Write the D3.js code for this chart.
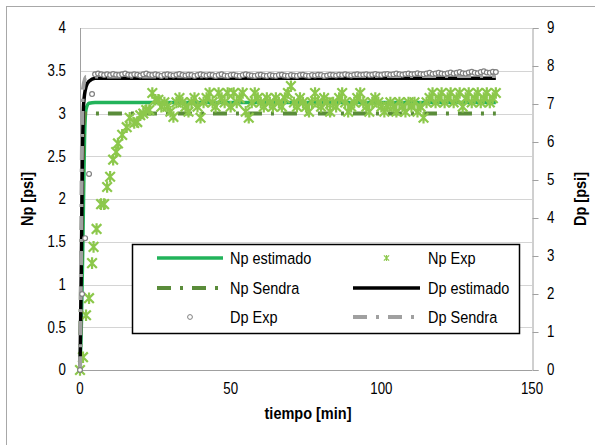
<!DOCTYPE html>
<html>
<head>
<meta charset="utf-8">
<script src="https://cdn.jsdelivr.net/npm/d3@7"></script>
<style>
  html, body { margin: 0; padding: 0; background: #fff; }
  svg { display: block; font-family: "Liberation Sans", Arial, sans-serif; }
</style>
</head>
<body>
<svg id="chart" width="595" height="445"></svg>
<script>
// ---- data ----
const npTicks = [0, 0.5, 1, 1.5, 2, 2.5, 3, 3.5, 4];
const dpTicks = [0, 1, 2, 3, 4, 5, 6, 7, 8, 9];
const timeTicks = [0, 50, 100, 150];

// model curves [t (min), value (psi)]
const npEstimado = [[0, 0], [0.5, 0.6], [1.0, 1.6], [1.5, 2.7], [2.0, 3.05], [3, 3.12], [5, 3.13], [138, 3.13]];
const npSendra   = [[0, 0], [0.5, 1.4], [1.0, 2.5], [1.5, 3.0], [138, 3.0]];
const dpEstimado = [[0, 0], [0.4, 2.5], [0.8, 5.5], [1.2, 7.0], [2, 7.45], [3, 7.6], [5, 7.68], [138, 7.68]];
const dpSendra   = [[0, 0], [0.3, 2.5], [0.6, 5.5], [1.0, 7.4], [2, 7.72], [138, 7.74]];

// Np measurements: start-up ramp, then one reading per minute
const npExpRamp = [[0, 0], [1, 0.15], [2, 0.64], [3, 0.84], [4, 1.25], [4.5, 1.44], [5.5, 1.65],
  [7, 1.94], [8, 1.94], [9, 2.14], [10, 2.26], [11, 2.46], [12, 2.55], [12.6, 2.65], [14, 2.75],
  [15.5, 2.84], [16.5, 2.95], [18, 2.89], [19, 2.9], [20, 2.98], [21, 3.0], [22, 3.04], [23, 3.04]];
const npExpStart = 24;
const npExpValues = [
  3.24, 3.16, 3.16, 3.08, 3.13, 3.08, 3.02, 2.96, 3.13, 3.18,
  3.13, 3.08, 3.02, 3.13, 3.18, 3.08, 2.95, 3.13, 3.18, 3.24,
  3.13, 3.08, 3.24, 3.18, 3.13, 3.24, 3.08, 3.24, 3.13, 3.18,
  3.24, 3.02, 2.95, 3.13, 3.24, 3.18, 3.13, 3.08, 3.18, 3.13,
  3.08, 3.18, 3.13, 3.08, 3.18, 3.24, 3.32, 3.13, 3.08, 3.18,
  3.13, 3.08, 3.02, 3.13, 3.24, 3.13, 3.08, 3.18, 3.13, 3.02,
  3.13, 3.08, 3.18, 3.24, 3.13, 3.02, 3.08, 3.13, 3.18, 3.24,
  3.13, 3.08, 3.02, 3.13, 3.18, 3.13, 3.08, 3.02, 3.08, 3.13,
  3.08, 3.02, 3.13, 3.08, 3.02, 3.13, 3.08, 3.13, 3.02, 3.08,
  2.95, 3.13, 3.18, 3.24, 3.13, 3.18, 3.24, 3.13, 3.18, 3.24,
  3.13, 3.18, 3.24, 3.08, 3.18, 3.24, 3.13, 3.18, 3.24, 3.13,
  3.18, 3.24, 3.13, 3.18, 3.24];

// Dp measurements: start-up ramp, then one reading per minute
const dpExpRamp = [[0, 0], [0.7, 2.0], [1.7, 3.47], [3, 5.16], [4, 7.26]];
const dpExpStart = 5;
const dpExpValues = [
  7.78, 7.80, 7.78, 7.76, 7.78, 7.76, 7.79, 7.77, 7.76, 7.78,
  7.80, 7.77, 7.76, 7.78, 7.77, 7.75, 7.78, 7.80, 7.77, 7.76,
  7.78, 7.76, 7.74, 7.77, 7.78, 7.76, 7.75, 7.77, 7.79, 7.76,
  7.75, 7.77, 7.76, 7.74, 7.76, 7.78, 7.76, 7.75, 7.77, 7.76,
  7.74, 7.76, 7.78, 7.75, 7.74, 7.76, 7.77, 7.75, 7.74, 7.76,
  7.78, 7.76, 7.75, 7.74, 7.76, 7.77, 7.75, 7.74, 7.76, 7.75,
  7.74, 7.76, 7.77, 7.75, 7.74, 7.76, 7.75, 7.74, 7.76, 7.77,
  7.75, 7.74, 7.76, 7.75, 7.77, 7.76, 7.74, 7.75, 7.77, 7.76,
  7.75, 7.77, 7.76, 7.78, 7.76, 7.75, 7.77, 7.78, 7.76, 7.77,
  7.78, 7.76, 7.77, 7.79, 7.77, 7.76, 7.78, 7.79, 7.77, 7.78,
  7.80, 7.78, 7.77, 7.79, 7.80, 7.78, 7.79, 7.81, 7.79, 7.78,
  7.80, 7.82, 7.79, 7.80, 7.82, 7.80, 7.79, 7.81, 7.83, 7.80,
  7.82, 7.84, 7.81, 7.80, 7.83, 7.85, 7.82, 7.81, 7.84, 7.86,
  7.83, 7.82, 7.85, 7.84];

const npExp = npExpRamp.concat(npExpValues.map((v, i) => [npExpStart + i, v]));
const dpExp = dpExpRamp.concat(dpExpValues.map((v, i) => [dpExpStart + i, v]));

const legendItems = [
  { label: "Np estimado", kind: "line", color: "#22b35a", width: 3.5, dash: null },
  { label: "Np Exp", kind: "star", color: "#8cc84b" },
  { label: "Np Sendra", kind: "line", color: "#5a8c3a", width: 4, dash: "14,9,3,9" },
  { label: "Dp estimado", kind: "line", color: "#000", width: 3.5, dash: null },
  { label: "Dp Exp", kind: "circle", color: "#808080" },
  { label: "Dp Sendra", kind: "line", color: "#a0a0a0", width: 4, dash: "14,9,3,9" }
];

// ---- layout ----
const svg = d3.select("#chart");
const plot = { left: 80, right: 532, top: 28, bottom: 370 };
const STRETCH = 1.18;

const x = d3.scaleLinear().domain([0, 150]).range([plot.left, plot.right]);
const yNp = d3.scaleLinear().domain([0, 4]).range([plot.bottom, plot.top]);
const yDp = d3.scaleLinear().domain([0, 9]).range([plot.bottom, plot.top]);

// outer frame
svg.append("rect").attr("x", 6.5).attr("y", 6.5).attr("width", 620).attr("height", 460)
  .attr("fill", "none").attr("stroke", "#a8a8a8").attr("stroke-width", 1);

// horizontal gridlines on the Np scale
svg.append("g").selectAll("line").data(npTicks).join("line")
  .attr("x1", plot.left).attr("x2", plot.right)
  .attr("y1", d => Math.round(yNp(d)) + 0.5).attr("y2", d => Math.round(yNp(d)) + 0.5)
  .attr("stroke", "#d4d4d4").attr("stroke-width", 1);

// axis lines
svg.append("line").attr("x1", plot.left + 0.5).attr("x2", plot.left + 0.5)
  .attr("y1", plot.top).attr("y2", plot.bottom).attr("stroke", "#a0a0a0");
svg.append("line").attr("x1", plot.left).attr("x2", plot.right)
  .attr("y1", plot.bottom + 0.5).attr("y2", plot.bottom + 0.5).attr("stroke", "#a0a0a0");

// right Dp axis
const dpAxis = d3.axisRight(yDp).tickValues(dpTicks).tickSize(6).tickFormat("");
const gDp = svg.append("g").attr("transform", `translate(${plot.right + 0.5},0)`).call(dpAxis);
gDp.selectAll("path, line").attr("stroke", "#a0a0a0");

function stretchedText(parent, px, py, str, opts = {}) {
  const g = parent.append("g")
    .attr("transform", `translate(${px},${py}) rotate(${opts.rotate || 0}) scale(1,${opts.stretch || STRETCH})`);
  g.append("text")
    .attr("text-anchor", opts.anchor || "middle")
    .attr("dominant-baseline", "central")
    .attr("font-size", opts.size || 13.3)
    .attr("font-weight", opts.weight || "normal")
    .attr("fill", "#000")
    .text(str);
  return g;
}

// tick labels
const labels = svg.append("g");
npTicks.forEach(t => stretchedText(labels, 66, yNp(t), d3.format("")(t), { anchor: "end" }));
dpTicks.forEach(t => stretchedText(labels, 547, yDp(t), String(t), { anchor: "start" }));
timeTicks.forEach(t => stretchedText(labels, x(t), 389, String(t)));

// axis titles
stretchedText(labels, 308, 413, "tiempo [min]", { size: 14.5, weight: "bold", stretch: 1.08 });
stretchedText(labels, 27, 199, "Np [psi]", { size: 14.5, weight: "bold", stretch: 1.08, rotate: -90 });
stretchedText(labels, 580, 199, "Dp [psi]", { size: 14.5, weight: "bold", stretch: 1.08, rotate: -90 });

// ---- series ----
const lineNp = d3.line().x(d => x(d[0])).y(d => yNp(d[1])).curve(d3.curveMonotoneX);
const lineDp = d3.line().x(d => x(d[0])).y(d => yDp(d[1])).curve(d3.curveMonotoneX);
const series = svg.append("g");

function drawLine(data, gen, item) {
  series.append("path").datum(data).attr("d", gen)
    .attr("fill", "none").attr("stroke", item.color).attr("stroke-width", item.width)
    .attr("stroke-dasharray", item.dash).attr("stroke-linejoin", "round");
}

const starPath = s => `M${-s},${-s}L${s},${s}M${-s},${s}L${s},${-s}M0,${-s * 1.2}L0,${s * 1.2}`;

drawLine(npEstimado, lineNp, legendItems[0]);
drawLine(npSendra, lineNp, legendItems[2]);
series.append("g").selectAll("path").data(npExp).join("path")
  .attr("transform", d => `translate(${x(d[0])},${yNp(d[1])})`)
  .attr("d", starPath(4.8))
  .attr("fill", "none").attr("stroke", legendItems[1].color).attr("stroke-width", 2.2);
drawLine(dpEstimado, lineDp, legendItems[3]);
drawLine(dpSendra, lineDp, legendItems[5]);
series.append("g").selectAll("circle").data(dpExp).join("circle")
  .attr("cx", d => x(d[0])).attr("cy", d => yDp(d[1])).attr("r", 2.4)
  .attr("fill", "#fff").attr("stroke", legendItems[4].color).attr("stroke-width", 1.2);

// ---- legend ----
const lg = svg.append("g");
lg.append("rect").attr("x", 132.5).attr("y", 244.5).attr("width", 387).attr("height", 89)
  .attr("fill", "#fff").attr("stroke", "#000").attr("stroke-width", 1.5);
const rowsY = [258, 288, 317];
const cols = [{ x1: 157, x2: 223, tx: 230 }, { x1: 353, x2: 420, tx: 428 }];
legendItems.forEach((item, i) => {
  const c = cols[i % 2], y = rowsY[Math.floor(i / 2)];
  const cx = (c.x1 + c.x2) / 2;
  if (item.kind === "line") {
    lg.append("line").attr("x1", c.x1).attr("x2", c.x2).attr("y1", y).attr("y2", y)
      .attr("stroke", item.color).attr("stroke-width", item.width)
      .attr("stroke-dasharray", item.dash);
  } else if (item.kind === "star") {
    lg.append("path").attr("transform", `translate(${cx},${y})`).attr("d", starPath(2.6))
      .attr("fill", "none").attr("stroke", item.color).attr("stroke-width", 1.2);
  } else {
    lg.append("circle").attr("cx", cx).attr("cy", y).attr("r", 2.4)
      .attr("fill", "#fff").attr("stroke", item.color).attr("stroke-width", 1);
  }
  stretchedText(lg, c.tx, y, item.label, { anchor: "start", size: 14.5, stretch: 1.2 });
});
</script>
</body>
</html>
